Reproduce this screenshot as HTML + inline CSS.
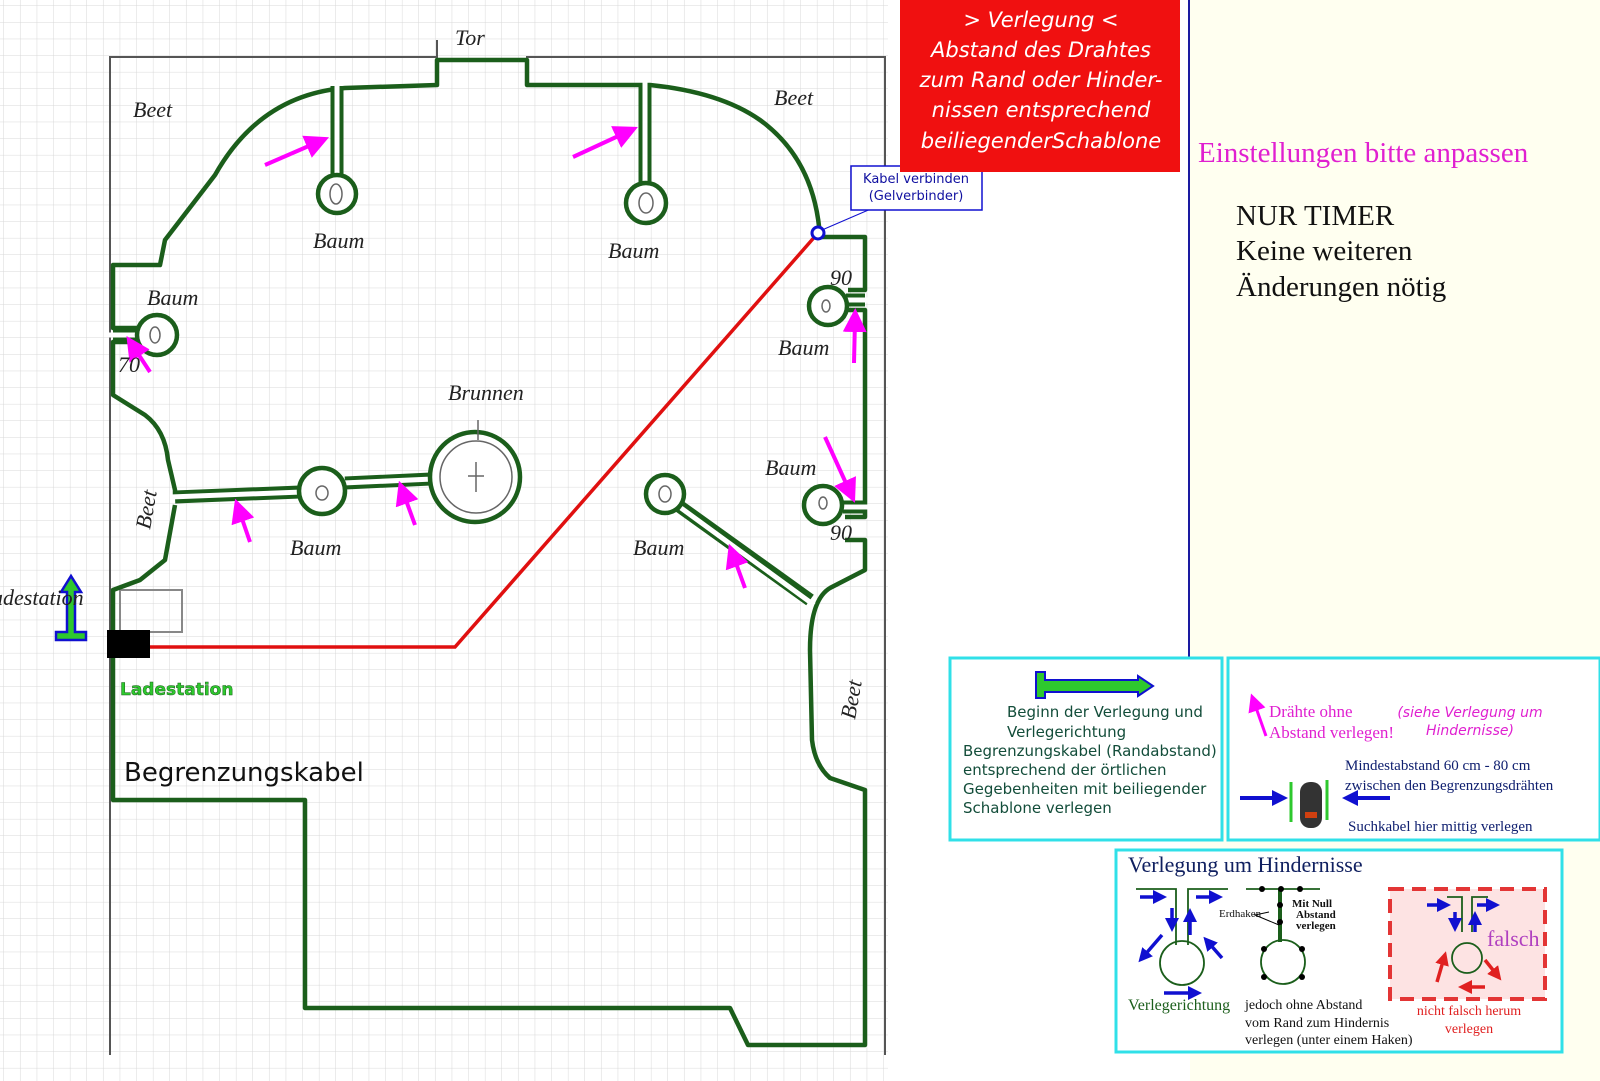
<!DOCTYPE html>
<html><head><meta charset="utf-8"><style>
html,body{margin:0;padding:0;background:#fff;}
body{width:1600px;height:1081px;position:relative;overflow:hidden;font-family:"Liberation Sans",sans-serif;}
svg{position:absolute;left:0;top:0;}
.hw{font-family:"Liberation Serif",serif;font-style:italic;fill:#222;font-size:22px;}
</style></head><body>
<svg width="1600" height="1081" viewBox="0 0 1600 1081" xmlns="http://www.w3.org/2000/svg">
<defs>
<pattern id="g" width="16.6" height="16.6" patternUnits="userSpaceOnUse" x="4" y="6">
<path d="M16.6 0V16.6M0 16.6H16.6" fill="none" stroke="#d8d8d8" stroke-width="1"/>
</pattern>
<marker id="ma" markerWidth="6" markerHeight="6" refX="3" refY="3" orient="auto" markerUnits="strokeWidth"><path d="M0,0L6,3L0,6z" fill="#ff00ff"/></marker>
<marker id="ba" markerWidth="4" markerHeight="4" refX="2" refY="2" orient="auto" markerUnits="strokeWidth"><path d="M0,0L4,2L0,4z" fill="#1010d0"/></marker>
<marker id="ra" markerWidth="4" markerHeight="4" refX="2" refY="2" orient="auto" markerUnits="strokeWidth"><path d="M0,0L4,2L0,4z" fill="#e02020"/></marker>
</defs>
<rect x="0" y="0" width="888" height="1081" fill="#fff"/>
<rect x="0" y="0" width="888" height="1081" fill="url(#g)"/>
<rect x="1190" y="0" width="410" height="1081" fill="#fffff0"/>
<line x1="1189" y1="0" x2="1189" y2="658" stroke="#1a1aa0" stroke-width="2"/>
<g stroke="#555" stroke-width="2" fill="none">
<path d="M110 1055V57H437V40M527 60V57H885V1055"/>
<path d="M120 590h62v42h-62z" stroke="#888"/>
</g>
<!-- green boundary -->
<g stroke="#1b5e1b" stroke-width="4.5" fill="none" stroke-linejoin="round">
<path d="M113 650V800H305V1008H730L748 1045H865V790L830 778Q815 765 812 740L810 650Q810 600 830 588L865 570V540L845 540M845 517H865V310H848M848 290H865V237H820Q815 160 760 120Q720 92 650 85H527V60H437V85L345 88Q260 95 215 175L165 240L160 265H113V328H138M138 342H113V395L145 415Q165 430 168 460L175 490V495M175 505L165 560L140 580L113 590V630"/>
</g>
<g stroke-linecap="butt" fill="none">
<g stroke="#1b5e1b" stroke-width="13">
<path d="M337 86V176M645 84V184M113 335H138M865 300H846M865 507H843M679 506L810 600M175 497L300 492M345 483L431 479"/>
</g>
<g stroke="#fff" stroke-width="5">
<path d="M337 80V178M645 78V186M109 335H140M869 300H844M869 507H841M681 508L814 605M170 497L302 492M343 483L433 479"/>
</g>
</g>
<g stroke="#1b5e1b" stroke-width="4.5" fill="#fff">
<circle cx="337" cy="194" r="19"/>
<circle cx="646" cy="203" r="20"/>
<circle cx="157" cy="335" r="20"/>
<circle cx="828" cy="306" r="19"/>
<circle cx="823" cy="505" r="19"/>
<circle cx="665" cy="494" r="19"/>
<circle cx="322" cy="491" r="23"/>
<circle cx="475" cy="477" r="45"/>
</g>
<g stroke="#666" stroke-width="1.5" fill="none">
<ellipse cx="336" cy="194" rx="6" ry="10"/><ellipse cx="646" cy="203" rx="7" ry="10"/>
<ellipse cx="155" cy="335" rx="5" ry="8"/><ellipse cx="826" cy="306" rx="4" ry="6"/>
<ellipse cx="823" cy="503" rx="4" ry="6"/><ellipse cx="665" cy="494" rx="6" ry="8"/>
<ellipse cx="322" cy="493" rx="6" ry="7"/><circle cx="476" cy="477" r="36"/>
<path d="M476 462V492M468 476H484M478 420V440"/>
</g>
<path d="M148 647H455L818 233" stroke="#e01010" stroke-width="3.5" fill="none"/>
<circle cx="818" cy="233" r="6" fill="#fff" stroke="#1010d0" stroke-width="3"/>
<path d="M822 230L880 205L862 205" stroke="#1010d0" stroke-width="1" fill="none"/>
<rect x="851" y="166" width="131" height="44" fill="#fff" stroke="#1010d0" stroke-width="1.5"/>
<text x="916" y="183" font-size="13" fill="#1010a0" text-anchor="middle" font-family="DejaVu Sans,sans-serif">Kabel verbinden</text>
<text x="916" y="200" font-size="13" fill="#1010a0" text-anchor="middle" font-family="DejaVu Sans,sans-serif">(Gelverbinder)</text>
<rect x="107" y="630" width="43" height="28" fill="#000"/>
<path d="M56 640H86V632H75V592H81L71 576L61 592H67V632H56Z" fill="#2ec82e" stroke="#1010d0" stroke-width="2.5"/>
<text x="120" y="695" font-size="17" font-weight="bold" fill="#2ec82e" stroke="#1b5e1b" stroke-width="0.5" font-family="DejaVu Sans,sans-serif">Ladestation</text>
<text x="124" y="781" font-size="26" fill="#111" font-family="DejaVu Sans,sans-serif">Begrenzungskabel</text>
<g stroke="#ff00ff" stroke-width="4" fill="none">
<path marker-end="url(#ma)" d="M265 165L318 142"/>
<path marker-end="url(#ma)" d="M573 157L627 132"/>
<path marker-end="url(#ma)" d="M150 372L133 346"/>
<path marker-end="url(#ma)" d="M854 363L855 320"/>
<path marker-end="url(#ma)" d="M825 437L850 492"/>
<path marker-end="url(#ma)" d="M250 542L239 510"/>
<path marker-end="url(#ma)" d="M415 525L403 492"/>
<path marker-end="url(#ma)" d="M745 588L733 555"/>
</g>
<text class="hw" x="455" y="45" font-size="30">Tor</text>
<text class="hw" x="133" y="117" font-size="26">Beet</text>
<text class="hw" x="774" y="105" font-size="26">Beet</text>
<text class="hw" x="313" y="248">Baum</text>
<text class="hw" x="608" y="258">Baum</text>
<text class="hw" x="147" y="305">Baum</text>
<text class="hw" x="778" y="355" font-size="19">Baum</text>
<text class="hw" x="448" y="400">Brunnen</text>
<text class="hw" x="765" y="475" font-size="19">Baum</text>
<text class="hw" x="290" y="555">Baum</text>
<text class="hw" x="633" y="555">Baum</text>
<text class="hw" x="118" y="372" font-size="16">70</text>
<text class="hw" x="830" y="285" font-size="16">90</text>
<text class="hw" x="830" y="540" font-size="20">90</text>
<text class="hw" x="-8" y="605" font-size="20">adestation</text>
<text class="hw" transform="translate(150,530) rotate(-80)" font-size="26">Beet</text>
<text class="hw" transform="translate(855,720) rotate(-80)" font-size="26">Beet</text>
<rect x="900" y="0" width="280" height="172" fill="#f01010"/>
<g font-family="DejaVu Sans,sans-serif" font-style="italic" font-size="21" fill="#fff" text-anchor="middle">
<text x="1041" y="27">&gt; Verlegung &lt;</text>
<text x="1041" y="57">Abstand des Drahtes</text>
<text x="1041" y="87">zum Rand oder Hinder-</text>
<text x="1041" y="117">nissen entsprechend</text>
<text x="1041" y="148">beiliegenderSchablone</text>
</g>
<text x="1198" y="162" font-family="Liberation Serif,serif" font-size="29" fill="#e020d0">Einstellungen bitte anpassen</text>
<g font-family="Liberation Serif,serif" font-size="29" fill="#111">
<text x="1236" y="225">NUR TIMER</text><text x="1236" y="260">Keine weiteren</text><text x="1236" y="296">Änderungen nötig</text>
</g>
<rect x="950" y="658" width="272" height="182" fill="#fff" stroke="#30e0e8" stroke-width="3"/>
<rect x="1228" y="658" width="372" height="182" fill="#fff" stroke="#30e0e8" stroke-width="3"/>
<rect x="1116" y="850" width="446" height="202" fill="#fff" stroke="#30e0e8" stroke-width="3"/>
<path d="M1036 672H1045V680H1138V676L1153 686L1138 696V692H1045V698H1036Z" fill="#2ec82e" stroke="#1010d0" stroke-width="2"/>
<g font-family="DejaVu Sans,sans-serif" font-size="15" fill="#134d3a">
<text x="1007" y="717">Beginn der Verlegung und</text>
<text x="1007" y="737">Verlegerichtung</text>
<text x="963" y="756">Begrenzungskabel (Randabstand)</text>
<text x="963" y="775">entsprechend der örtlichen</text>
<text x="963" y="794">Gegebenheiten mit beiliegender</text>
<text x="963" y="813">Schablone verlegen</text>
</g>
<path d="M1266 736L1254 702" stroke="#ff00ff" stroke-width="3" marker-end="url(#ma)"/>
<g font-family="Liberation Serif,serif" font-size="17" fill="#e020d0">
<text x="1269" y="717">Drähte ohne</text><text x="1269" y="738">Abstand verlegen!</text></g>
<g font-family="DejaVu Sans,sans-serif" font-style="italic" font-size="14" fill="#e020d0" text-anchor="middle">
<text x="1470" y="717">(siehe Verlegung um</text><text x="1470" y="735">Hindernisse)</text></g>
<g font-family="Liberation Serif,serif" font-size="15" fill="#102070">
<text x="1345" y="770">Mindestabstand 60 cm - 80 cm</text>
<text x="1345" y="790">zwischen den Begrenzungsdrähten</text>
<text x="1348" y="831">Suchkabel hier mittig verlegen</text></g>
<g stroke="#1010d0" stroke-width="4" fill="none">
<path marker-end="url(#ba)" d="M1240 798H1280"/>
<path marker-end="url(#ba)" d="M1390 798H1350"/>
</g>
<path d="M1291 782V822M1327 780V820" stroke="#2ec82e" stroke-width="3"/>
<rect x="1300" y="782" width="22" height="46" rx="10" fill="#333"/><rect x="1305" y="812" width="12" height="6" fill="#d04010"/>
<text x="1128" y="872" font-family="Liberation Serif,serif" font-size="22" fill="#102060">Verlegung um Hindernisse</text>
<g stroke="#1b5e1b" stroke-width="1.8" fill="none">
<path d="M1136 889H1176V945M1188 945V889H1228"/><circle cx="1182" cy="963" r="22"/>
<path d="M1246 889H1320"/><path d="M1280 889V942" stroke-width="4"/><circle cx="1283" cy="962" r="22"/>
</g>
<rect x="1390" y="889" width="155" height="110" fill="#fde0e0" opacity="0.9" stroke="#e02020" stroke-width="4" stroke-dasharray="14,8"/>
<g stroke="#1b5e1b" stroke-width="1.8" fill="none"><path d="M1447 897H1462V932M1472 932V897H1488"/><circle cx="1467" cy="958" r="15"/></g>
<g stroke="#1010d0" stroke-width="3.5" fill="none">
<path marker-end="url(#ba)" d="M1140 897H1160"/>
<path marker-end="url(#ba)" d="M1196 897H1216"/>
<path marker-end="url(#ba)" d="M1172 908V925"/>
<path marker-end="url(#ba)" d="M1190 935V915"/>
<path marker-end="url(#ba)" d="M1162 935L1143 957"/>
<path marker-end="url(#ba)" d="M1222 958L1208 942"/>
<path marker-end="url(#ba)" d="M1164 993H1195"/>
<path marker-end="url(#ba)" d="M1427 905H1444"/>
<path marker-end="url(#ba)" d="M1477 905H1493"/>
<path marker-end="url(#ba)" d="M1455 912V925"/>
<path marker-end="url(#ba)" d="M1475 932V918"/>
</g>
<g stroke="#e02020" stroke-width="3.5" fill="none">
<path marker-end="url(#ra)" d="M1437 982L1444 958"/>
<path marker-end="url(#ra)" d="M1485 960L1497 975"/>
<path marker-end="url(#ra)" d="M1485 987H1465"/>
</g>
<text x="1487" y="946" font-family="Liberation Serif,serif" font-size="22" fill="#b040c0">falsch</text>
<g fill="#000"><circle cx="1262" cy="889" r="3"/><circle cx="1281" cy="889" r="3"/><circle cx="1300" cy="889" r="3"/><circle cx="1280" cy="905" r="3"/><circle cx="1280" cy="922" r="3"/><circle cx="1264" cy="949" r="3"/><circle cx="1302" cy="949" r="3"/><circle cx="1264" cy="977" r="3"/><circle cx="1302" cy="977" r="3"/></g>
<path d="M1269 912L1255 915L1279 925" stroke="#000" fill="none"/>
<g font-family="Liberation Serif,serif" font-size="11" fill="#111" font-weight="bold">
<text x="1292" y="907">Mit Null</text><text x="1296" y="918">Abstand</text><text x="1296" y="929">verlegen</text></g>
<text x="1219" y="917" font-family="Liberation Serif,serif" font-size="11" fill="#111">Erdhaken</text>
<text x="1128" y="1010" font-family="Liberation Serif,serif" font-size="16" fill="#1b5e1b">Verlegerichtung</text>
<g font-family="Liberation Serif,serif" font-size="14" fill="#111">
<text x="1245" y="1009">jedoch ohne Abstand</text><text x="1245" y="1027">vom Rand zum Hindernis</text><text x="1245" y="1044">verlegen (unter einem Haken)</text></g>
<g font-family="Liberation Serif,serif" font-size="14" fill="#e02020" text-anchor="middle">
<text x="1469" y="1015">nicht falsch herum</text><text x="1469" y="1033">verlegen</text></g>
</svg>
</body></html>
